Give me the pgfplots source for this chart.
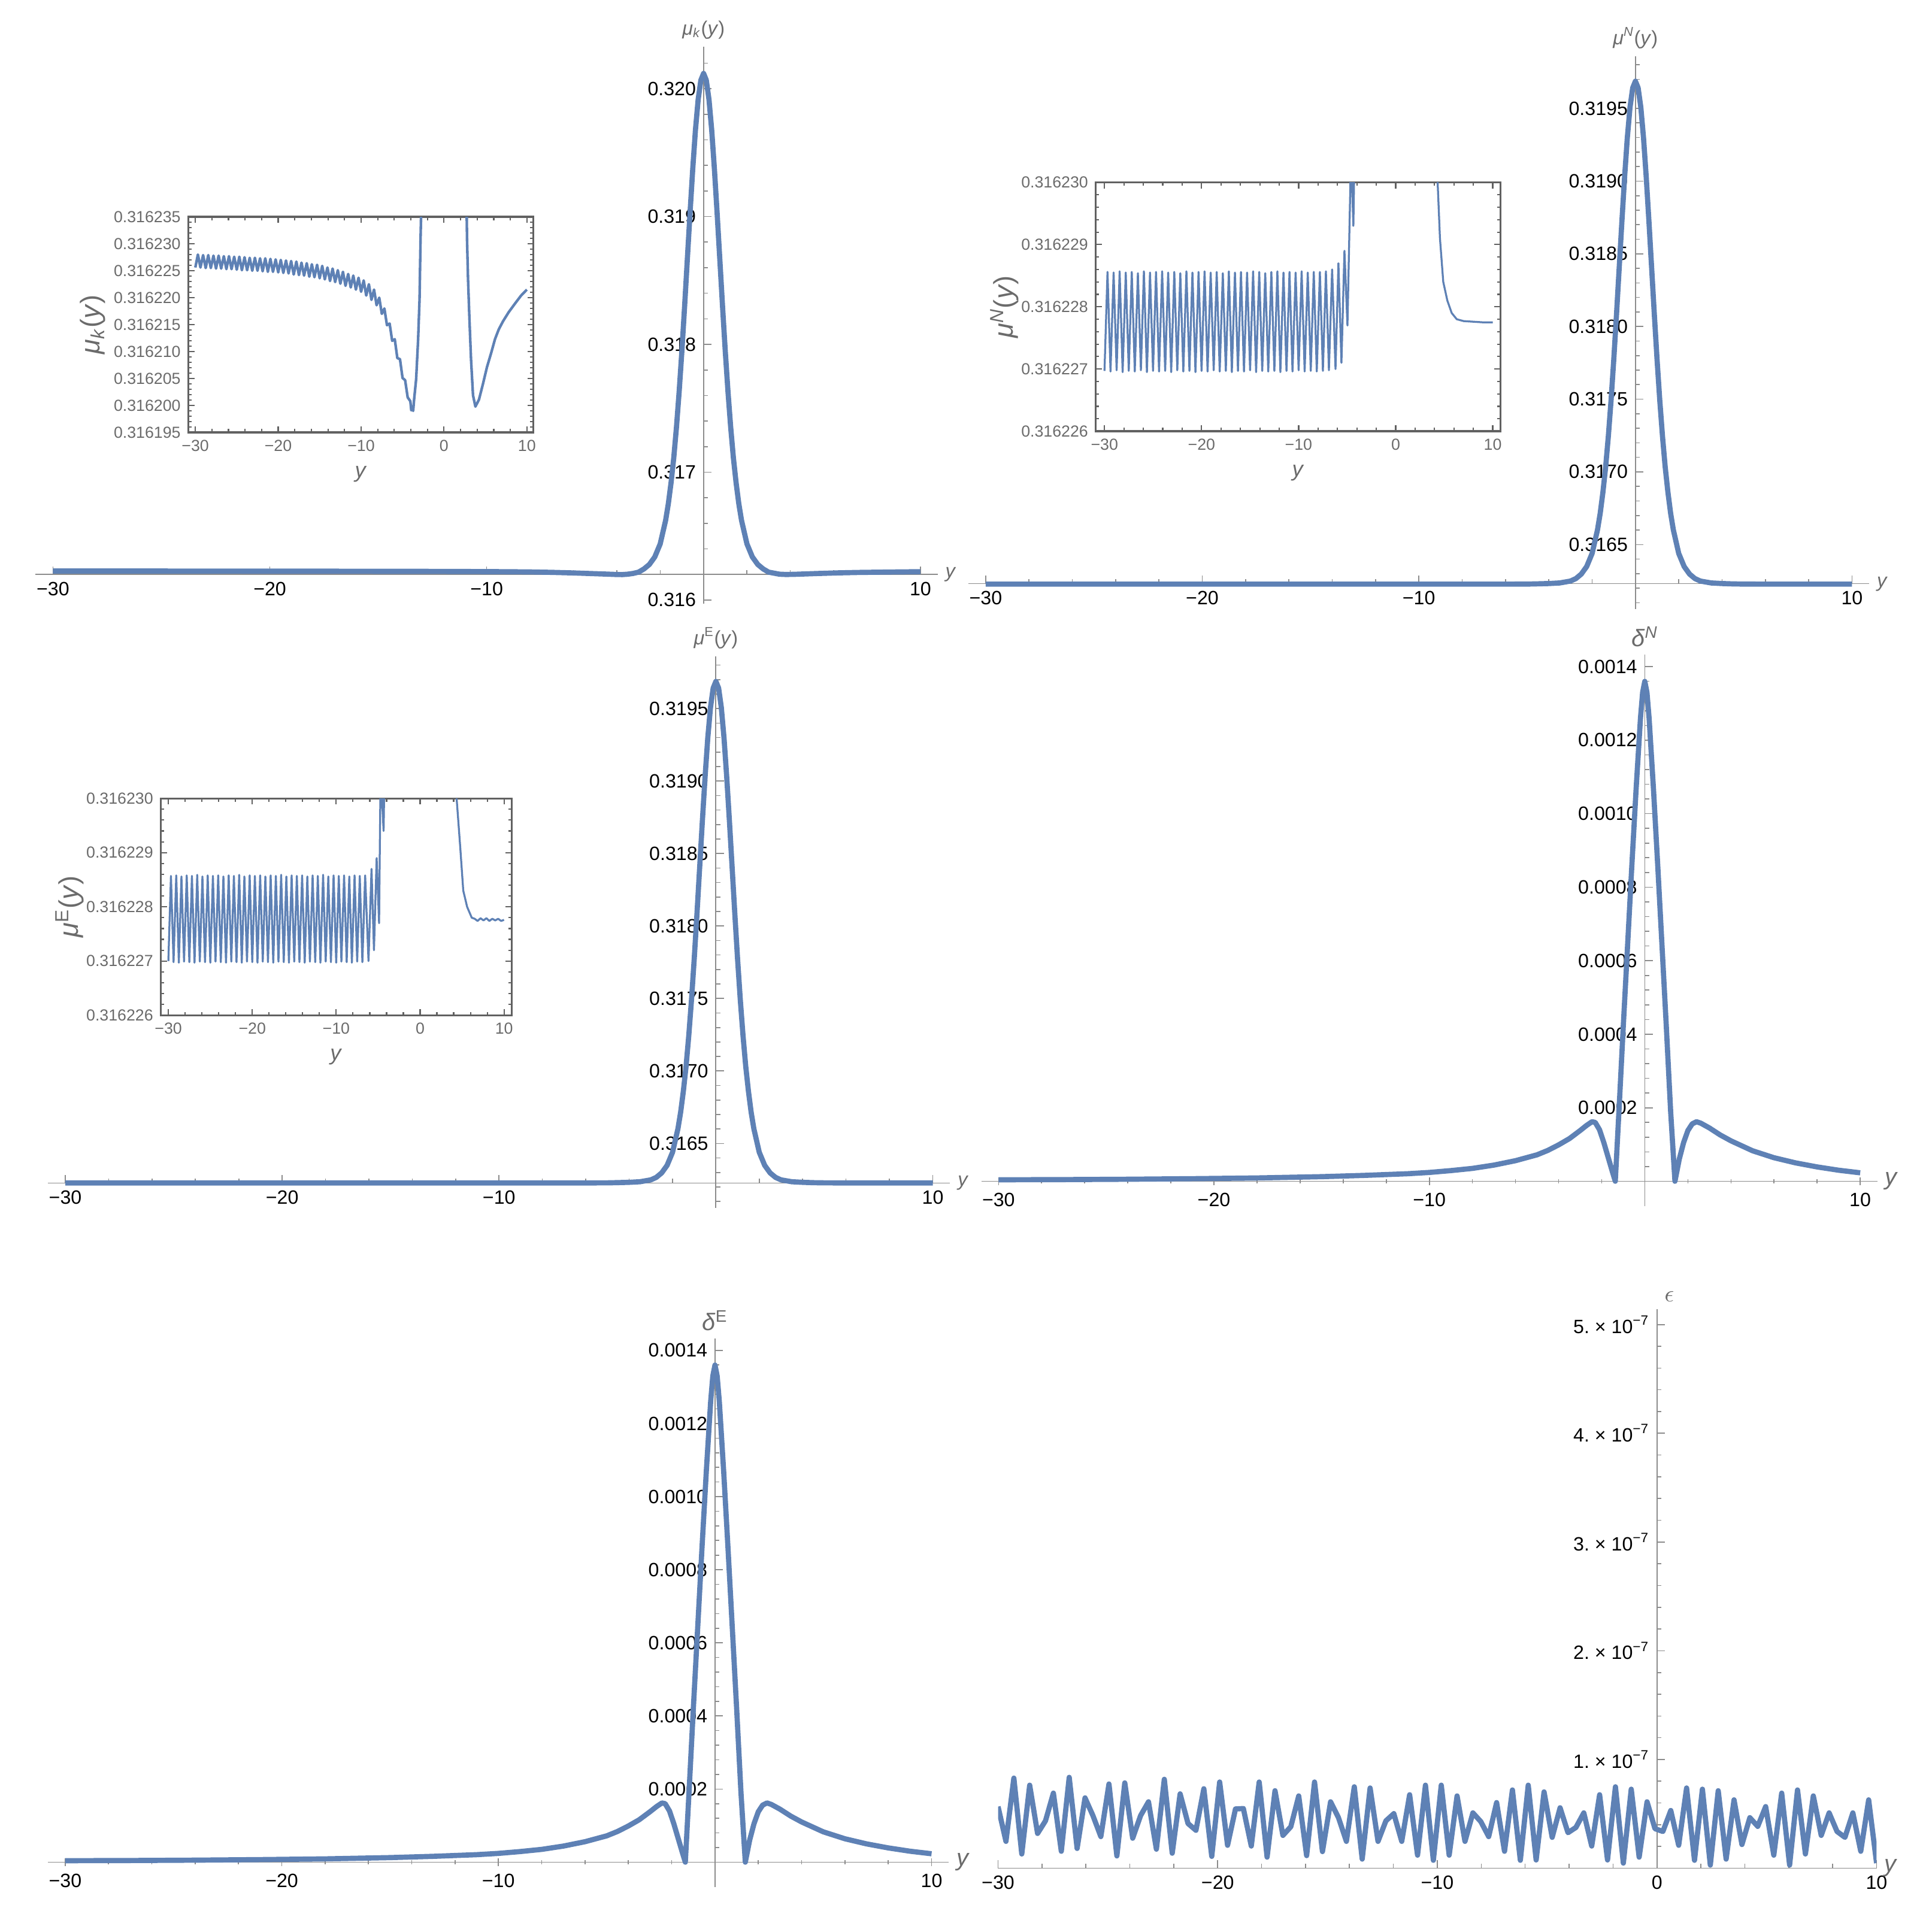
\documentclass[border=0pt]{standalone}
\usepackage{fontspec}
\setmainfont{Liberation Sans}
\usepackage{pgfplots}
\pgfplotsset{compat=1.18}

\definecolor{mblue}{RGB}{94,129,181}
\definecolor{axisgray}{gray}{0.55}
\definecolor{labelgray}{gray}{0.42}
\definecolor{framegray}{gray}{0.38}

\tikzset{axlabel/.style={text=labelgray, font=\fontsize{9}{11}\selectfont}}

\pgfplotsset{
  mainpanel/.style={
    scale only axis, anchor=south west,
    axis y line=middle, axis x line=bottom,
    axis line style={-, axisgray, line width=0.5pt},
    every tick/.style={axisgray, line width=0.45pt},
    tick align=inside,
    major tick length=0.13cm, minor tick length=0.07cm,
    tick label style={font=\fontsize{8.9}{10}\selectfont, text=black},
    scaled y ticks=false, scaled x ticks=false,
    clip mode=individual,
  },
  insetpanel/.style={
    scale only axis, anchor=south west,
    axis background/.style={fill=white},
    axis line style={framegray, line width=0.9pt},
    every tick/.style={framegray, line width=0.6pt},
    tick align=inside,
    major tick length=0.1cm, minor tick length=0.055cm,
    tick label style={font=\fontsize{7.4}{8.5}\selectfont, text=labelgray},
    xtick={-30,-20,-10,0,10}, xticklabels={−30,−20,−10,0,10},
    minor xtick={-30,-28,...,10},
    xlabel={\textit{y}},
    label style={text=labelgray},
    xlabel style={font=\fontsize{10}{12}\selectfont},
    ylabel style={font=\fontsize{12.5}{14}\selectfont},
    ylabel shift=-0.2cm,
  },
  curve/.style={mblue, line width=2.4pt, line join=round, no markers},
  thincurve/.style={mblue, line width=0.9pt, line join=round, no markers},
}

\begin{document}
\begin{tikzpicture}
\useasboundingbox (0,0) rectangle (31.36,31.26);

% ---------------- panel 1: mu_k ----------------
\begin{axis}[mainpanel, at={(0.578cm,21.458cm)}, width=14.644cm, height=9.046cm,
  xmin=-30.8, xmax=10.8, ymin=0.31597, ymax=0.32033,
  axis x line shift=-0.476cm,
  xtick={-30,-20,-10,10}, xticklabels={−30,−20,−10,10},
  minor xtick={-30,-28,...,10},
  ytick={0.316,0.317,0.318,0.319,0.320}, yticklabels={0.316,0.317,0.318,0.319,0.320},
  minor ytick={0.3160,0.3162,...,0.3203}]
\addplot[curve] coordinates {(-30,0.3162268) (-25,0.3162264) (-20,0.3162259) (-15,0.3162248) (-12,0.3162238) (-10,0.3162223) (-9,0.3162212) (-8,0.3162196) (-7,0.3162164) (-6,0.3162118) (-5,0.3162059) (-4.5,0.3162029) (-4,0.3161996) (-3.75,0.316199) (-3.5,0.316202) (-3.25,0.316208) (-3,0.316218) (-2.75,0.316243) (-2.5,0.316278) (-2.25,0.316337) (-2,0.316439) (-1.75,0.316623) (-1.625,0.316753) (-1.5,0.316917) (-1.375,0.317112) (-1.25,0.317352) (-1.125,0.317632) (-1,0.317948) (-0.875,0.318296) (-0.75,0.318662) (-0.625,0.319026) (-0.5,0.319371) (-0.375,0.319677) (-0.25,0.319915) (-0.125,0.320067) (0,0.32012) (0.125,0.320067) (0.25,0.319915) (0.375,0.319677) (0.5,0.319371) (0.625,0.319026) (0.75,0.318662) (0.875,0.318296) (1,0.317948) (1.125,0.317632) (1.25,0.317352) (1.375,0.317112) (1.5,0.316917) (1.625,0.316753) (1.75,0.316623) (2,0.316439) (2.25,0.316337) (2.5,0.316278) (2.75,0.316243) (3,0.316218) (3.5,0.316202) (3.8,0.3161998) (4.2,0.3162011) (5.2,0.3162071) (6.2,0.3162123) (7.1,0.3162156) (8.6,0.3162189) (10,0.3162215)};
\node[axlabel, anchor=south] at (axis cs:0,0.32033) {\textit{μ}\textsubscript{\textit{k}}(\textit{y})};
\node[axlabel, anchor=west] at (axis cs:10.8,0.3162) {\textit{y}};
\end{axis}

% ---------------- panel 2: mu^N ----------------
\begin{axis}[mainpanel, at={(15.718cm,21.37cm)}, width=14.624cm, height=8.978cm,
  xmin=-30.8, xmax=10.8, ymin=0.316055, ymax=0.319859,
  axis x line shift=-0.416cm,
  xtick={-30,-20,-10,10}, xticklabels={−30,−20,−10,10},
  minor xtick={-30,-28,...,10},
  ytick={0.3165,0.3170,0.3175,0.3180,0.3185,0.3190,0.3195},
  yticklabels={0.3165,0.3170,0.3175,0.3180,0.3185,0.3190,0.3195},
  minor ytick={0.3161,0.3162,...,0.3198}]
\addplot[curve] coordinates {(-30,0.3162278) (-20,0.3162278) (-10,0.3162278) (-6,0.3162279) (-5,0.3162283) (-4.5,0.31623) (-4,0.316232) (-3.5,0.316236) (-3,0.316249) (-2.75,0.316266) (-2.5,0.316297) (-2.25,0.316349) (-2,0.316439) (-1.75,0.316602) (-1.625,0.316716) (-1.5,0.316861) (-1.375,0.317033) (-1.25,0.317245) (-1.125,0.317491) (-1,0.317771) (-0.875,0.318078) (-0.75,0.3184) (-0.625,0.318721) (-0.5,0.319026) (-0.375,0.319296) (-0.25,0.319507) (-0.125,0.319641) (0,0.319687) (0.125,0.319641) (0.25,0.319507) (0.375,0.319296) (0.5,0.319026) (0.625,0.318721) (0.75,0.3184) (0.875,0.318078) (1,0.317771) (1.125,0.317491) (1.25,0.317245) (1.375,0.317033) (1.5,0.316861) (1.625,0.316716) (1.75,0.316602) (2,0.316439) (2.25,0.316349) (2.5,0.316297) (2.75,0.316266) (3,0.316249) (3.5,0.316236) (4,0.316232) (4.5,0.3162295) (5,0.3162284) (6,0.3162278) (10,0.3162278)};
\node[axlabel, anchor=south] at (axis cs:0,0.319859) {\textit{μ}\textsuperscript{\textit{N}}(\textit{y})};
\node[axlabel, anchor=west] at (axis cs:10.8,0.31623) {\textit{y}};
\end{axis}

% ---------------- panel 3: mu^E ----------------
\begin{axis}[mainpanel, at={(0.778cm,11.652cm)}, width=14.644cm, height=8.952cm,
  xmin=-30.8, xmax=10.8, ymin=0.316055, ymax=0.319859,
  axis x line shift=-0.404cm,
  xtick={-30,-20,-10,10}, xticklabels={−30,−20,−10,10},
  minor xtick={-30,-28,...,10},
  ytick={0.3165,0.3170,0.3175,0.3180,0.3185,0.3190,0.3195},
  yticklabels={0.3165,0.3170,0.3175,0.3180,0.3185,0.3190,0.3195},
  minor ytick={0.3161,0.3162,...,0.3198}]
\addplot[curve] coordinates {(-30,0.3162278) (-20,0.3162278) (-10,0.3162278) (-6,0.3162279) (-5,0.3162283) (-4.5,0.31623) (-4,0.316232) (-3.5,0.316236) (-3,0.316249) (-2.75,0.316266) (-2.5,0.316297) (-2.25,0.316349) (-2,0.316439) (-1.75,0.316602) (-1.625,0.316716) (-1.5,0.316861) (-1.375,0.317033) (-1.25,0.317245) (-1.125,0.317491) (-1,0.317771) (-0.875,0.318078) (-0.75,0.3184) (-0.625,0.318721) (-0.5,0.319026) (-0.375,0.319296) (-0.25,0.319507) (-0.125,0.319641) (0,0.319687) (0.125,0.319641) (0.25,0.319507) (0.375,0.319296) (0.5,0.319026) (0.625,0.318721) (0.75,0.3184) (0.875,0.318078) (1,0.317771) (1.125,0.317491) (1.25,0.317245) (1.375,0.317033) (1.5,0.316861) (1.625,0.316716) (1.75,0.316602) (2,0.316439) (2.25,0.316349) (2.5,0.316297) (2.75,0.316266) (3,0.316249) (3.5,0.316236) (4,0.316232) (4.5,0.3162295) (5,0.3162283) (6,0.3162278) (10,0.3162277)};
\node[axlabel, anchor=south] at (axis cs:0,0.319859) {\textit{μ}\textsuperscript{E}(\textit{y})};
\node[axlabel, anchor=west] at (axis cs:10.8,0.316226) {\textit{y}};
\end{axis}

% ---------------- panel 4: delta^N ----------------
\begin{axis}[mainpanel, axis x line=middle, axis line style={-},
  at={(15.928cm,11.68cm)}, width=14.546cm, height=8.956cm,
  xmin=-30.8, xmax=10.8, ymin=-0.000068, ymax=0.001433,
  xtick={-30,-20,-10,10}, xticklabels={−30,−20,−10,10},
  minor xtick={-30,-28,...,10},
  ytick={0.0002,0.0004,0.0006,0.0008,0.0010,0.0012,0.0014},
  yticklabels={0.0002,0.0004,0.0006,0.0008,0.0010,0.0012,0.0014},
  minor ytick={0,0.00004,...,0.00143}]
\addplot[curve] coordinates {(-30,4e-6) (-27,4.5e-6) (-24,5.5e-6) (-21,7e-6) (-18,9e-6) (-15,1.25e-5) (-13,1.6e-5) (-11,2.05e-5) (-10,2.4e-5) (-9,2.9e-5) (-8,3.5e-5) (-7,4.4e-5) (-6,5.6e-5) (-5,7.2e-5) (-4.5,8.4e-5) (-4,9.9e-5) (-3.5,1.16e-4) (-3,1.38e-4) (-2.7,1.52e-4) (-2.45,1.62e-4) (-2.3,1.6e-4) (-2.1,1.4e-4) (-1.9,1.05e-4) (-1.7,6.5e-5) (-1.5,2.5e-5) (-1.37,0) (-1.2,1.9e-4) (-1,4.2e-4) (-0.8,6.4e-4) (-0.6,8.6e-4) (-0.4,1.07e-3) (-0.2,1.26e-3) (-0.1,1.33e-3) (0,1.36e-3) (0.1,1.33e-3) (0.2,1.26e-3) (0.4,1.07e-3) (0.6,8.6e-4) (0.8,6.4e-4) (1,4.2e-4) (1.2,1.9e-4) (1.4,0) (1.6,6e-5) (1.8,1.05e-4) (2,1.38e-4) (2.2,1.56e-4) (2.4,1.62e-4) (2.6,1.58e-4) (3,1.45e-4) (3.5,1.26e-4) (4,1.1e-4) (5,8.3e-5) (6,6.4e-5) (7,5e-5) (8,3.9e-5) (9,3e-5) (10,2.3e-5)};
\node[axlabel, anchor=south, font=\fontsize{11}{13}\selectfont] at (axis cs:0,0.001433) {\textit{δ}\textsuperscript{\textit{N}}};
\node[axlabel, anchor=west, font=\fontsize{11}{13}\selectfont] at (axis cs:10.8,0) {\textit{y}};
\end{axis}

% ---------------- panel 5: delta^E ----------------
\begin{axis}[mainpanel, axis x line=middle, axis line style={-},
  at={(0.778cm,0.63cm)}, width=14.624cm, height=8.906cm,
  xmin=-30.8, xmax=10.8, ymin=-0.000068, ymax=0.001433,
  xtick={-30,-20,-10,10}, xticklabels={−30,−20,−10,10},
  minor xtick={-30,-28,...,10},
  ytick={0.0002,0.0004,0.0006,0.0008,0.0010,0.0012,0.0014},
  yticklabels={0.0002,0.0004,0.0006,0.0008,0.0010,0.0012,0.0014},
  minor ytick={0,0.00004,...,0.00143}]
\addplot[curve] coordinates {(-30,4e-6) (-27,4.5e-6) (-24,5.5e-6) (-21,7e-6) (-18,9e-6) (-15,1.25e-5) (-13,1.6e-5) (-11,2.05e-5) (-10,2.4e-5) (-9,2.9e-5) (-8,3.5e-5) (-7,4.4e-5) (-6,5.6e-5) (-5,7.2e-5) (-4.5,8.4e-5) (-4,9.9e-5) (-3.5,1.16e-4) (-3,1.38e-4) (-2.7,1.52e-4) (-2.45,1.62e-4) (-2.3,1.6e-4) (-2.1,1.4e-4) (-1.9,1.05e-4) (-1.7,6.5e-5) (-1.5,2.5e-5) (-1.37,0) (-1.2,1.9e-4) (-1,4.2e-4) (-0.8,6.4e-4) (-0.6,8.6e-4) (-0.4,1.07e-3) (-0.2,1.26e-3) (-0.1,1.33e-3) (0,1.36e-3) (0.1,1.33e-3) (0.2,1.26e-3) (0.4,1.07e-3) (0.6,8.6e-4) (0.8,6.4e-4) (1,4.2e-4) (1.2,1.9e-4) (1.4,0) (1.6,6e-5) (1.8,1.05e-4) (2,1.38e-4) (2.2,1.56e-4) (2.4,1.62e-4) (2.6,1.58e-4) (3,1.45e-4) (3.5,1.26e-4) (4,1.1e-4) (5,8.3e-5) (6,6.4e-5) (7,5e-5) (8,3.9e-5) (9,3e-5) (10,2.3e-5)};
\node[axlabel, anchor=south, font=\fontsize{11}{13}\selectfont] at (axis cs:0,0.001433) {\textit{δ}\textsuperscript{E}};
\node[axlabel, anchor=west, font=\fontsize{11}{13}\selectfont] at (axis cs:10.8,0) {\textit{y}};
\end{axis}

% ---------------- panel 6: epsilon ----------------
\begin{axis}[mainpanel,
  at={(16.2cm,0.935cm)}, width=14.26cm, height=9.072cm,
  xmin=-30, xmax=10, ymin=0, ymax=5.14e-7,
  xtick={-30,-20,-10,0,10}, xticklabels={−30,−20,−10,0,10},
  minor xtick={-30,-28,...,10},
  ytick={1e-7,2e-7,3e-7,4e-7,5e-7},
  yticklabels={1.\ ×\ 10\textsuperscript{−7},2.\ ×\ 10\textsuperscript{−7},3.\ ×\ 10\textsuperscript{−7},4.\ ×\ 10\textsuperscript{−7},5.\ ×\ 10\textsuperscript{−7}},
  minor ytick={2e-8,4e-8,6e-8,8e-8,1.2e-7,1.4e-7,1.6e-7,1.8e-7,2.2e-7,2.4e-7,2.6e-7,2.8e-7,3.2e-7,3.4e-7,3.6e-7,3.8e-7,4.2e-7,4.4e-7,4.6e-7,4.8e-7}]
\addplot[curve] coordinates {(-30.00,0.567e-7) (-29.64,0.247e-7) (-29.28,0.829e-7) (-28.92,0.131e-7) (-28.56,0.764e-7) (-28.20,0.320e-7) (-27.84,0.436e-7) (-27.48,0.691e-7) (-27.12,0.156e-7) (-26.76,0.836e-7) (-26.40,0.182e-7) (-26.04,0.647e-7) (-25.68,0.484e-7) (-25.32,0.291e-7) (-24.95,0.775e-7) (-24.59,0.113e-7) (-24.23,0.785e-7) (-23.87,0.276e-7) (-23.51,0.484e-7) (-23.15,0.611e-7) (-22.79,0.175e-7) (-22.43,0.818e-7) (-22.07,0.138e-7) (-21.71,0.684e-7) (-21.35,0.411e-7) (-20.99,0.349e-7) (-20.63,0.731e-7) (-20.27,0.109e-7) (-19.91,0.793e-7) (-19.55,0.211e-7) (-19.19,0.545e-7) (-18.83,0.549e-7) (-18.47,0.204e-7) (-18.11,0.793e-7) (-17.75,0.102e-7) (-17.39,0.713e-7) (-17.03,0.302e-7) (-16.67,0.382e-7) (-16.31,0.665e-7) (-15.95,0.116e-7) (-15.59,0.793e-7) (-15.23,0.153e-7) (-14.86,0.611e-7) (-14.50,0.465e-7) (-14.14,0.247e-7) (-13.78,0.749e-7) (-13.42,0.084e-7) (-13.06,0.738e-7) (-12.70,0.247e-7) (-12.34,0.436e-7) (-11.98,0.502e-7) (-11.62,0.247e-7) (-11.26,0.676e-7) (-10.90,0.120e-7) (-10.54,0.764e-7) (-10.18,0.073e-7) (-9.82,0.764e-7) (-9.46,0.120e-7) (-9.10,0.665e-7) (-8.74,0.247e-7) (-8.38,0.509e-7) (-8.02,0.429e-7) (-7.66,0.291e-7) (-7.30,0.604e-7) (-6.94,0.156e-7) (-6.58,0.720e-7) (-6.22,0.073e-7) (-5.86,0.764e-7) (-5.50,0.076e-7) (-5.14,0.702e-7) (-4.77,0.284e-7) (-4.41,0.556e-7) (-4.05,0.327e-7) (-3.69,0.375e-7) (-3.33,0.509e-7) (-2.97,0.204e-7) (-2.61,0.676e-7) (-2.25,0.076e-7) (-1.89,0.749e-7) (-1.53,0.047e-7) (-1.17,0.727e-7) (-0.81,0.102e-7) (-0.45,0.611e-7) (-0.09,0.364e-7) (0.27,0.338e-7) (0.63,0.531e-7) (0.99,0.211e-7) (1.35,0.738e-7) (1.71,0.073e-7) (2.07,0.727e-7) (2.43,0.029e-7) (2.79,0.713e-7) (3.15,0.084e-7) (3.51,0.629e-7) (3.87,0.218e-7) (4.23,0.465e-7) (4.59,0.385e-7) (4.95,0.567e-7) (5.32,0.120e-7) (5.68,0.691e-7) (6.04,0.029e-7) (6.40,0.720e-7) (6.76,0.131e-7) (7.12,0.665e-7) (7.48,0.302e-7) (7.84,0.509e-7) (8.20,0.338e-7) (8.56,0.284e-7) (8.92,0.509e-7) (9.28,0.156e-7) (9.64,0.629e-7) (10.00,0.047e-7)};
\node[axlabel, anchor=south west, font=\fontsize{11}{13}\selectfont] at (axis cs:0,5.14e-7) {$\epsilon$};
\node[axlabel, anchor=west, font=\fontsize{11}{13}\selectfont] at (axis cs:10,0) {\textit{y}};
\end{axis}

% ---------------- inset 1: mu_k, values as (mu_k - 0.316200) x 10^6 ----------------
\begin{axis}[insetpanel, at={(3.056cm,24.24cm)}, width=5.604cm, height=3.5cm,
  xmin=-30.85, xmax=10.8, ymin=-5, ymax=35,
  ytick={-5,0,5,10,15,20,25,30,35},
  yticklabels={0.316195,0.316200,0.316205,0.316210,0.316215,0.316220,0.316225,0.316230,0.316235},
  minor ytick={-5,-4,...,35},
  ylabel shift=-0.1cm,
  ylabel={\textit{μ}\textsubscript{\textit{k}}(\textit{y})}]
\addplot[thincurve, line width=1.2pt] coordinates {(-30,25.6) (-29.69,28.0) (-29.38,25.6) (-29.06,27.9) (-28.75,25.5) (-28.44,27.9) (-28.13,25.5) (-27.81,27.8) (-27.5,25.4) (-27.19,27.8) (-26.88,25.4) (-26.56,27.7) (-26.25,25.3) (-25.94,27.7) (-25.63,25.3) (-25.31,27.6) (-25,25.2) (-24.69,27.6) (-24.38,25.1) (-24.06,27.5) (-23.75,25.1) (-23.44,27.4) (-23.13,25.0) (-22.81,27.4) (-22.5,25.0) (-22.19,27.3) (-21.88,24.9) (-21.56,27.3) (-21.25,24.8) (-20.94,27.2) (-20.63,24.8) (-20.31,27.1) (-20,24.7) (-19.69,27.0) (-19.38,24.6) (-19.06,26.9) (-18.75,24.5) (-18.44,26.8) (-18.13,24.3) (-17.81,26.7) (-17.5,24.2) (-17.19,26.5) (-16.88,24.1) (-16.56,26.4) (-16.25,23.9) (-15.94,26.2) (-15.63,23.8) (-15.31,26.1) (-15,23.6) (-14.69,25.9) (-14.38,23.4) (-14.06,25.6) (-13.75,23.1) (-13.44,25.4) (-13.13,22.9) (-12.81,25.1) (-12.5,22.6) (-12.19,24.8) (-11.88,22.2) (-11.56,24.4) (-11.25,21.9) (-10.94,24.1) (-10.63,21.5) (-10.31,23.7) (-10,21.1) (-9.69,23.2) (-9.38,20.4) (-9.06,22.5) (-8.75,19.6) (-8.44,21.5) (-8.13,18.6) (-7.81,20.0) (-7.5,17.0) (-7.19,18.0) (-6.88,14.9) (-6.56,15.2) (-6.25,12.0) (-5.94,12.3) (-5.63,8.8) (-5.31,8.6) (-5,5.1) (-4.69,4.7) (-4.38,1.5) (-4.06,0.8) (-3.95,-0.9) (-3.85,-0.4) (-3.72,-1.0) (-3.6,1.2) (-3.36,4.9) (-3.12,12.3) (-2.95,19.7) (-2.83,30.8) (-2.7,40) (-2.5,78) (2.5,78) (2.65,45) (2.78,30.8) (2.9,23.4) (3.07,16.0) (3.26,8.6) (3.5,1.9) (3.79,-0.2) (4.22,1.1) (4.7,4.0) (5.18,7.1) (5.7,9.8) (6.15,12.3) (6.6,14.1) (7.11,15.6) (7.8,17.3) (8.56,18.9) (9.3,20.4) (10,21.5)};
\end{axis}

% ---------------- inset 2: mu^N, values as (mu^N - 0.316200) x 10^6 ----------------
\begin{axis}[insetpanel, at={(17.786cm,24.26cm)}, width=6.57cm, height=4.04cm,
  xmin=-30.9, xmax=10.8, ymin=26, ymax=30,
  ytick={26,27,28,29,30},
  yticklabels={0.316226,0.316227,0.316228,0.316229,0.316230},
  minor ytick={26,26.2,...,30},
  ylabel={\textit{μ}\textsuperscript{\textit{N}}(\textit{y})}]
\addplot[thincurve] coordinates {(-30,26.97) (-29.69,28.56) (-29.38,26.96) (-29.06,28.55) (-28.75,26.98) (-28.44,28.57) (-28.13,26.95) (-27.81,28.55) (-27.5,26.97) (-27.19,28.56) (-26.88,26.96) (-26.56,28.54) (-26.25,26.98) (-25.94,28.57) (-25.63,26.95) (-25.31,28.55) (-25,26.97) (-24.69,28.56) (-24.38,26.96) (-24.06,28.57) (-23.75,26.97) (-23.44,28.55) (-23.13,26.95) (-22.81,28.56) (-22.5,26.98) (-22.19,28.54) (-21.88,26.96) (-21.56,28.57) (-21.25,26.97) (-20.94,28.55) (-20.63,26.95) (-20.31,28.56) (-20,26.97) (-19.69,28.57) (-19.38,26.96) (-19.06,28.55) (-18.75,26.98) (-18.44,28.56) (-18.13,26.96) (-17.81,28.54) (-17.5,26.97) (-17.19,28.57) (-16.88,26.95) (-16.56,28.55) (-16.25,26.97) (-15.94,28.56) (-15.63,26.96) (-15.31,28.55) (-15,26.98) (-14.69,28.57) (-14.38,26.95) (-14.06,28.56) (-13.75,26.97) (-13.44,28.54) (-13.13,26.96) (-12.81,28.56) (-12.5,26.97) (-12.19,28.57) (-11.88,26.95) (-11.56,28.55) (-11.25,26.97) (-10.94,28.56) (-10.63,26.96) (-10.31,28.55) (-10,26.98) (-9.69,28.57) (-9.38,26.96) (-9.06,28.55) (-8.75,26.97) (-8.44,28.56) (-8.13,26.96) (-7.81,28.56) (-7.5,26.97) (-7.19,28.57) (-6.88,26.98) (-6.55,28.6) (-6.2,27.0) (-5.9,28.7) (-5.59,27.1) (-5.28,28.9) (-4.97,27.7) (-4.6,30.5) (-4.36,29.3) (-4.1,32) (-3.5,36) (-3,49) (3,49) (3.5,36) (4,32) (4.32,30.0) (4.56,29.1) (4.9,28.4) (5.32,28.1) (5.77,27.9) (6.29,27.8) (7,27.77) (8,27.76) (9,27.75) (10,27.75)};
\end{axis}

% ---------------- inset 3: mu^E, values as (mu^E - 0.316200) x 10^6 ----------------
\begin{axis}[insetpanel, at={(2.61cm,14.78cm)}, width=5.694cm, height=3.52cm,
  xmin=-30.9, xmax=10.9, ymin=26, ymax=30,
  ytick={26,27,28,29,30},
  yticklabels={0.316226,0.316227,0.316228,0.316229,0.316230},
  minor ytick={26,26.2,...,30},
  ylabel={\textit{μ}\textsuperscript{E}(\textit{y})}]
\addplot[thincurve] coordinates {(-30,27.0) (-29.69,28.57) (-29.38,26.98) (-29.06,28.58) (-28.75,26.97) (-28.44,28.56) (-28.13,26.99) (-27.81,28.58) (-27.5,26.98) (-27.19,28.57) (-26.88,26.97) (-26.56,28.59) (-26.25,26.99) (-25.94,28.56) (-25.63,26.98) (-25.31,28.58) (-25,26.97) (-24.69,28.57) (-24.38,26.99) (-24.06,28.58) (-23.75,26.98) (-23.44,28.56) (-23.13,26.97) (-22.81,28.58) (-22.5,26.99) (-22.19,28.57) (-21.88,26.98) (-21.56,28.59) (-21.25,26.97) (-20.94,28.56) (-20.63,26.99) (-20.31,28.58) (-20,26.98) (-19.69,28.57) (-19.38,26.97) (-19.06,28.58) (-18.75,26.99) (-18.44,28.56) (-18.13,26.98) (-17.81,28.58) (-17.5,26.97) (-17.19,28.57) (-16.88,26.99) (-16.56,28.59) (-16.25,26.98) (-15.94,28.56) (-15.63,26.97) (-15.31,28.58) (-15,26.99) (-14.69,28.57) (-14.38,26.98) (-14.06,28.58) (-13.75,26.97) (-13.44,28.56) (-13.13,26.99) (-12.81,28.58) (-12.5,26.98) (-12.19,28.57) (-11.88,26.97) (-11.56,28.59) (-11.25,26.99) (-10.94,28.56) (-10.63,26.98) (-10.31,28.58) (-10,26.97) (-9.69,28.57) (-9.38,26.99) (-9.06,28.58) (-8.75,26.98) (-8.44,28.56) (-8.13,26.97) (-7.81,28.58) (-7.5,26.99) (-7.19,28.57) (-6.88,26.98) (-6.55,28.58) (-6.15,27.0) (-5.79,28.7) (-5.5,27.2) (-5.18,28.9) (-4.89,27.7) (-4.71,30.5) (-4.35,29.4) (-4.1,32) (-3.5,36) (-3,49) (3,49) (3.5,36) (4,32) (4.35,30.0) (4.78,29.1) (5.14,28.3) (5.6,28.0) (6.15,27.8) (6.5,27.78) (6.85,27.74) (7.2,27.79) (7.55,27.75) (7.9,27.79) (8.25,27.74) (8.6,27.78) (8.95,27.75) (9.3,27.78) (9.65,27.74) (10,27.76)};
\end{axis}
\end{tikzpicture}
\end{document}
